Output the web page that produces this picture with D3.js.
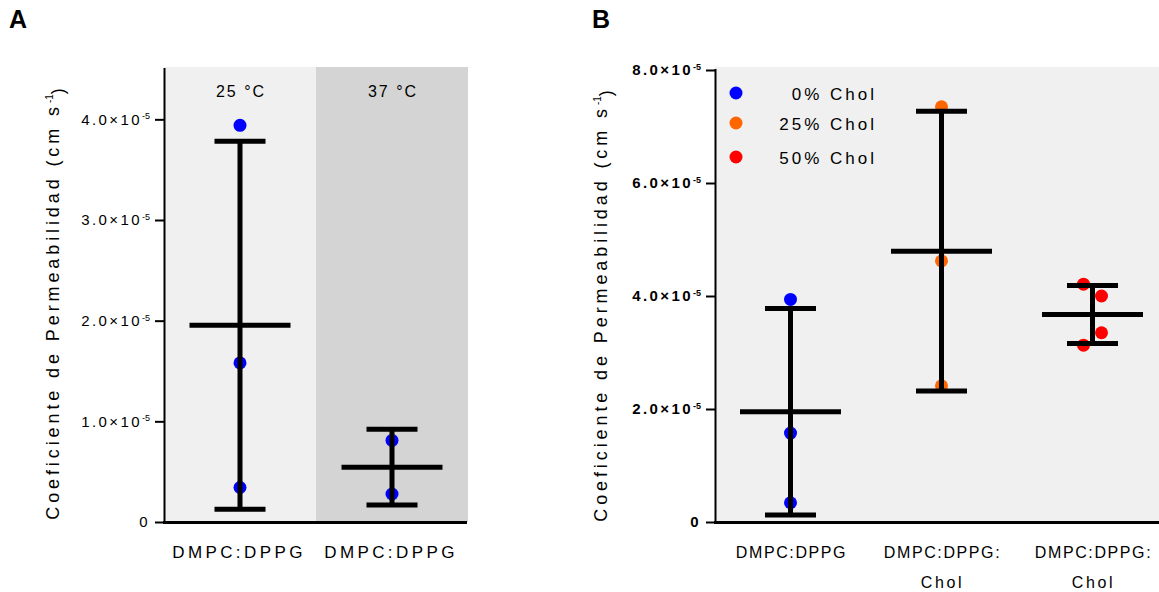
<!DOCTYPE html>
<html>
<head>
<meta charset="utf-8">
<script src="https://cdn.jsdelivr.net/npm/d3@7"></script>
<style>
  body { margin: 0; background: #fff; }
  svg text { font-family: "Liberation Sans", Arial, sans-serif; fill: #000; }
</style>
</head>
<body>
<svg width="1159" height="592"></svg>
<script>
// panel A: DMPC:DPPG at two temperatures
const conditionsA = ["25 °C", "37 °C"];
const categoryLabelsA = ["DMPC:DPPG", "DMPC:DPPG"];
const values25 = [3.94e-5, 1.58e-5, 0.343e-5];
const values37 = [0.81e-5, 0.278e-5];
const ticksA = [0, 1e-5, 2e-5, 3e-5, 4e-5];

// panel B: cholesterol content
const seriesB = ["0% Chol", "25% Chol", "50% Chol"];
const categoryLabelsB = [["DMPC:DPPG"], ["DMPC:DPPG:", "Chol"], ["DMPC:DPPG:", "Chol"]];
const chol0 = [3.94e-5, 1.574e-5, 0.341e-5];
const chol25 = [7.35e-5, 4.62e-5, 2.41e-5];
const chol50 = [4.21e-5, 4.0e-5, 3.35e-5, 3.13e-5];
const jitter50 = [-1, 1, 1, -1];
const ticksB = [0, 2e-5, 4e-5, 6e-5, 8e-5];
const colorsB = ["#0000ff", "#ff6600", "#ff0000"];

const svg = d3.select("svg");
const fmt = d => d === 0 ? "0" : (d / 1e-5).toFixed(1) + "×10";

function drawGroups(g, x, y, groups) {
  groups.forEach(function(grp) {
    const cx = x(grp.key) + x.bandwidth() / 2;
    const m = d3.mean(grp.values);
    const sd = d3.deviation(grp.values);
    g.selectAll(null)
      .data(grp.values)
      .enter()
      .append("circle")
      .attr("cx", (d, i) => cx + (grp.jitter ? grp.jitter[i] * 9 : 0))
      .attr("cy", d => y(d))
      .attr("r", 6.5)
      .attr("fill", grp.color);
    g.append("line")
      .attr("x1", cx).attr("x2", cx)
      .attr("y1", y(m - sd)).attr("y2", y(m + sd))
      .attr("stroke", "#000").attr("stroke-width", 5);
    [m - sd, m + sd].forEach(function(v) {
      g.append("line")
        .attr("x1", cx - 25.5).attr("x2", cx + 25.5)
        .attr("y1", y(v)).attr("y2", y(v))
        .attr("stroke", "#000").attr("stroke-width", 5);
    });
    g.append("line")
      .attr("x1", cx - 50.5).attr("x2", cx + 50.5)
      .attr("y1", y(m)).attr("y2", y(m))
      .attr("stroke", "#000").attr("stroke-width", 5);
  });
}

function yAxis(g, y, ticks, bold) {
  g.call(d3.axisLeft(y).tickValues(ticks).tickSize(10).tickPadding(5).tickFormat(fmt));
  g.select(".domain").attr("stroke-width", 2).attr("d", "M-0.5," + y.range()[0] + "V" + (y.range()[1] - 1));
  g.selectAll(".tick line").attr("stroke-width", 2);
  g.selectAll(".tick text")
    .attr("font-size", 15)
    .attr("font-weight", bold ? "bold" : "normal")
    .style("letter-spacing", "2.4px")
    .each(function(d) {
      if (d !== 0) {
        d3.select(this).append("tspan")
          .attr("dy", "-0.6em")
          .attr("font-size", 9)
          .style("letter-spacing", "0px")
          .text("-5");
      }
    });
}

function yTitle(x, cy) {
  const t = svg.append("text")
    .attr("transform", "translate(" + x + "," + cy + ") rotate(-90)")
    .attr("text-anchor", "middle")
    .attr("font-size", 18)
    .style("letter-spacing", "3.9px");
  t.append("tspan").text("Coeficiente de Permeabilidad (cm s");
  t.append("tspan").attr("dy", "-0.6em").attr("font-size", 10).style("letter-spacing", "0px").text("-1");
  t.append("tspan").attr("dy", "0.6em").text(")");
}

// ---------- panel A ----------
const xA = d3.scaleBand().domain(conditionsA).range([164, 468]);
const yA = d3.scaleLinear().domain([0, 4.5e-5]).range([522, 69]);
const gA = svg.append("g");

gA.selectAll(".bg")
  .data(conditionsA)
  .enter()
  .append("rect")
  .attr("x", d => xA(d))
  .attr("y", 67)
  .attr("width", xA.bandwidth())
  .attr("height", 522 - 67)
  .attr("fill", (d, i) => i === 0 ? "#f0f0f0" : "#d4d4d4");

gA.selectAll(".cond")
  .data(conditionsA)
  .enter()
  .append("text")
  .attr("x", d => xA(d) + xA.bandwidth() / 2 + 1)
  .attr("y", 97)
  .attr("text-anchor", "middle")
  .attr("font-size", 16)
  .style("letter-spacing", "2px")
  .text(d => d);

drawGroups(gA, xA, yA, [
  { key: conditionsA[0], values: values25, color: "#0000ff" },
  { key: conditionsA[1], values: values37, color: "#0000ff" }
]);

gA.append("line")
  .attr("x1", 163).attr("x2", 467)
  .attr("y1", 522.5).attr("y2", 522.5)
  .attr("stroke", "#000").attr("stroke-width", 3);

gA.append("g").attr("transform", "translate(165,0)").call(g => yAxis(g, yA, ticksA, false));

gA.selectAll(".cat")
  .data(conditionsA)
  .enter()
  .append("text")
  .attr("x", d => xA(d) + xA.bandwidth() / 2 - 1)
  .attr("y", 558)
  .attr("text-anchor", "middle")
  .attr("font-size", 17)
  .style("letter-spacing", "3.4px")
  .text((d, i) => categoryLabelsA[i]);

yTitle(59, 302);

svg.append("text").attr("x", 9).attr("y", 28)
  .attr("font-size", 25).attr("font-weight", "bold").text("A");

// ---------- panel B ----------
const xB = d3.scaleBand().domain(seriesB).range([715, 1168]);
const yB = d3.scaleLinear().domain([0, 8e-5]).range([522, 70]);
const gB = svg.append("g");

gB.append("rect")
  .attr("x", 715).attr("y", 67)
  .attr("width", 1159 - 715).attr("height", 522 - 67)
  .attr("fill", "#f0f0f0");

// legend
const leg = gB.selectAll(".leg")
  .data(seriesB)
  .enter()
  .append("g")
  .attr("transform", (d, i) => "translate(0," + [93, 123, 157][i] + ")");
leg.append("circle").attr("cx", 736).attr("r", 6.5).attr("fill", (d, i) => colorsB[i]);
leg.append("text")
  .attr("x", 877)
  .attr("y", 7)
  .attr("text-anchor", "end")
  .attr("font-size", 17)
  .style("letter-spacing", "3px")
  .text(d => d);

drawGroups(gB, xB, yB, [
  { key: seriesB[0], values: chol0, color: colorsB[0] },
  { key: seriesB[1], values: chol25, color: colorsB[1] },
  { key: seriesB[2], values: chol50, color: colorsB[2], jitter: jitter50 }
]);

gB.append("line")
  .attr("x1", 714).attr("x2", 1159)
  .attr("y1", 522.5).attr("y2", 522.5)
  .attr("stroke", "#000").attr("stroke-width", 3);

gB.append("g").attr("transform", "translate(716,0)").call(g => yAxis(g, yB, ticksB, true));

gB.selectAll(".cat")
  .data(seriesB)
  .enter()
  .append("text")
  .attr("x", d => xB(d) + xB.bandwidth() / 2 + 1)
  .attr("y", 558)
  .attr("text-anchor", "middle")
  .attr("font-size", 16)
  .style("letter-spacing", "1.6px")
  .each(function(d, i) {
    const t = d3.select(this);
    categoryLabelsB[i].forEach(function(line, j) {
      t.append("tspan")
        .attr("x", xB(d) + xB.bandwidth() / 2 + 1)
        .attr("dy", j === 0 ? 0 : 30)
        .style("letter-spacing", j === 0 ? "1.6px" : "2.6px")
        .text(line);
    });
  });

yTitle(607, 304);

svg.append("text").attr("x", 592).attr("y", 28)
  .attr("font-size", 25).attr("font-weight", "bold").text("B");
</script>
</body>
</html>
